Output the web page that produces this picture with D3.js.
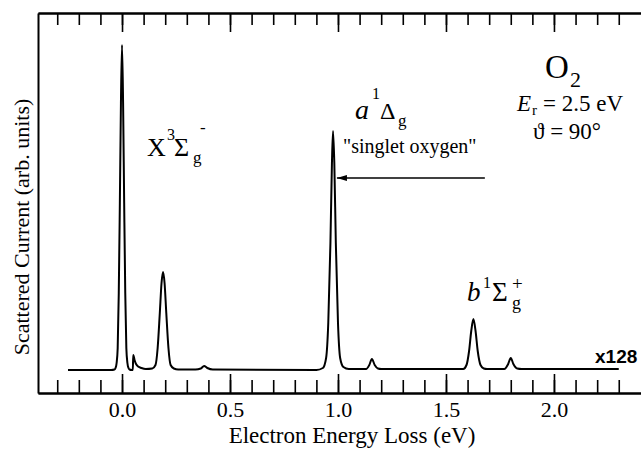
<!DOCTYPE html>
<html>
<head>
<meta charset="utf-8">
<script src="https://cdn.jsdelivr.net/npm/d3@7"></script>
<style>
  body { margin: 0; background: #fff; }
  svg { display: block; }
</style>
</head>
<body>
<div id="container"></div>
<script>
/* CONSTANTS AND GLOBALS */
const width = 641;
const height = 449;
const margin = { left: 38, right: 0, top: 13, bottom: 56 };
const SERIF = "Liberation Serif";
const SANS = "Liberation Sans";

/* DATA */
// electron energy loss (eV)
const energy = [
  -0.25, -0.05, -0.035, -0.03, -0.025, -0.02, -0.015, -0.01, -0.005, 0.0,
  0.005, 0.01, 0.015, 0.02, 0.025, 0.03, 0.035, 0.045, 0.05, 0.052,
  0.058, 0.065, 0.075, 0.09, 0.11, 0.14, 0.155, 0.165, 0.175, 0.183,
  0.19, 0.197, 0.205, 0.215, 0.225, 0.24, 0.26, 0.34, 0.365, 0.38,
  0.395, 0.42, 0.9, 0.93, 0.945, 0.955, 0.965, 0.972, 0.977, 0.983,
  0.99, 1.0, 1.01, 1.025, 1.05, 1.13, 1.145, 1.157, 1.17, 1.185,
  1.2, 1.58, 1.595, 1.607, 1.617, 1.627, 1.637, 1.647, 1.66, 1.675,
  1.69, 1.77, 1.788, 1.8, 1.812, 1.83, 1.85, 2.3
];
// scattered current (arb. units)
const current = [
  23, 23, 23.5, 25, 30, 45, 100, 190, 290, 348,
  290, 190, 100, 45, 30, 25, 23.5, 23, 23, 38,
  33, 29, 26.5, 25, 24, 24.5, 28, 45, 80, 110,
  121, 110, 80, 45, 28, 24.5, 23.5, 23.5, 24.5, 27,
  25, 23.5, 23, 25, 35, 70, 150, 230, 262, 230,
  150, 70, 35, 26, 24, 24, 28, 34, 28, 24.5,
  24, 24, 28, 42, 62, 74, 62, 42, 28, 24.5,
  24, 24, 29, 35, 29, 24.5, 24, 24
];
const data = energy.map((e, i) => ({ energy: e, current: current[i] }));

const majorTicks = [0.0, 0.5, 1.0, 1.5, 2.0];
const minorTicks = d3.range(-3, 24).map(d => d / 10);
const xTitle = "Electron Energy Loss (eV)";
const yTitle = "Scattered Current (arb. units)";

/* SCALES */
const xScale = d3.scaleLinear()
  .domain([-0.389, 2.403])
  .range([margin.left, width - margin.right]);

const yScale = d3.scaleLinear()
  .domain([0, 380])
  .range([height - margin.bottom, margin.top]);

/* SVG */
const svg = d3.select("#container")
  .append("svg")
  .attr("width", width)
  .attr("height", height);

/* AXES */
const yBottom = height - margin.bottom;

function tickAxis(axisFn, y, size, values, labels) {
  const g = svg.append("g")
    .attr("transform", `translate(0, ${y})`)
    .call(axisFn(xScale)
      .tickValues(values)
      .tickSizeInner(size)
      .tickSizeOuter(0)
      .tickPadding(8)
      .tickFormat(labels ? d3.format(".1f") : ""));
  g.select(".domain").attr("stroke-width", 2);
  g.selectAll(".tick line").attr("stroke-width", 1.6);
  g.selectAll(".tick text")
    .style("font-family", SERIF)
    .style("font-size", "22px");
  return g;
}

// bottom: minor + major ticks pointing in
tickAxis(d3.axisBottom, yBottom, -13, minorTicks, false);
tickAxis(d3.axisBottom, yBottom, -19, majorTicks, true);
// top: mirrored ticks
tickAxis(d3.axisTop, margin.top, -12, minorTicks, false);
tickAxis(d3.axisTop, margin.top, -19, majorTicks, false);

const yAxisGroup = svg.append("g")
  .attr("transform", `translate(${margin.left}, 0)`)
  .call(d3.axisLeft(yScale).tickValues([]).tickSizeOuter(0));
yAxisGroup.select(".domain").attr("stroke-width", 2);

/* LINE */
const lineGen = d3.line()
  .x(d => xScale(d.energy))
  .y(d => yScale(d.current))
  .curve(d3.curveMonotoneX);

svg.append("path")
  .datum(data)
  .attr("fill", "none")
  .attr("stroke", "#000")
  .attr("stroke-width", 2)
  .attr("stroke-linejoin", "round")
  .attr("d", lineGen);

/* TEXT */
function label(x, y, txt, size, opts = {}) {
  return svg.append("text")
    .attr("x", x)
    .attr("y", y)
    .attr("text-anchor", opts.anchor || "start")
    .style("font-family", opts.sans ? SANS : SERIF)
    .style("font-size", size + "px")
    .style("font-style", opts.italic ? "italic" : "normal")
    .style("font-weight", opts.bold ? "bold" : "normal")
    .style("fill", "#000")
    .text(txt);
}

label(352, 443, xTitle, 23, { anchor: "middle" });
label(0, 0, yTitle, 22, { anchor: "middle" })
  .attr("transform", "translate(29, 227) rotate(-90)");

// X 3Σg-
label(147, 156, "X", 26);
label(167, 140, "3", 16);
label(174, 156, "Σ", 26);
label(193, 163, "g", 17);
label(200, 133, "-", 17);

// a 1Δg
label(355, 119, "a", 28, { italic: true });
label(372, 99, "1", 16);
label(380, 119, "Δ", 24);
label(398, 126, "g", 17);

label(343, 153, "\"singlet oxygen\"", 20);

// arrow
svg.append("defs").append("marker")
  .attr("id", "head")
  .attr("viewBox", "0 0 10 6")
  .attr("refX", 0).attr("refY", 3)
  .attr("markerWidth", 11).attr("markerHeight", 6)
  .attr("markerUnits", "userSpaceOnUse")
  .attr("orient", "auto")
  .append("path")
  .attr("d", "M0,3L10,0L10,6Z")
  .attr("fill", "#000");

svg.append("line")
  .attr("x1", xScale(0.995)).attr("y1", yScale(215))
  .attr("x2", xScale(1.68)).attr("y2", yScale(215))
  .attr("stroke", "#000")
  .attr("stroke-width", 1.6)
  .attr("marker-start", "url(#head)");

// O2
label(545, 78, "O", 33);
label(570, 87, "2", 22);
label(517, 111, "E", 23, { italic: true });
label(532, 115, "r", 15);
label(543, 111, "= 2.5 eV", 23);
label(533, 139, "ϑ = 90°", 23);

// b 1Σg+
label(467, 301, "b", 27, { italic: true });
label(483, 288, "1", 16);
label(492, 301, "Σ", 27);
label(512, 309, "g", 18);
label(512, 290, "+", 19);

label(595, 363, "x128", 19, { bold: true, sans: true });
</script>
</body>
</html>
